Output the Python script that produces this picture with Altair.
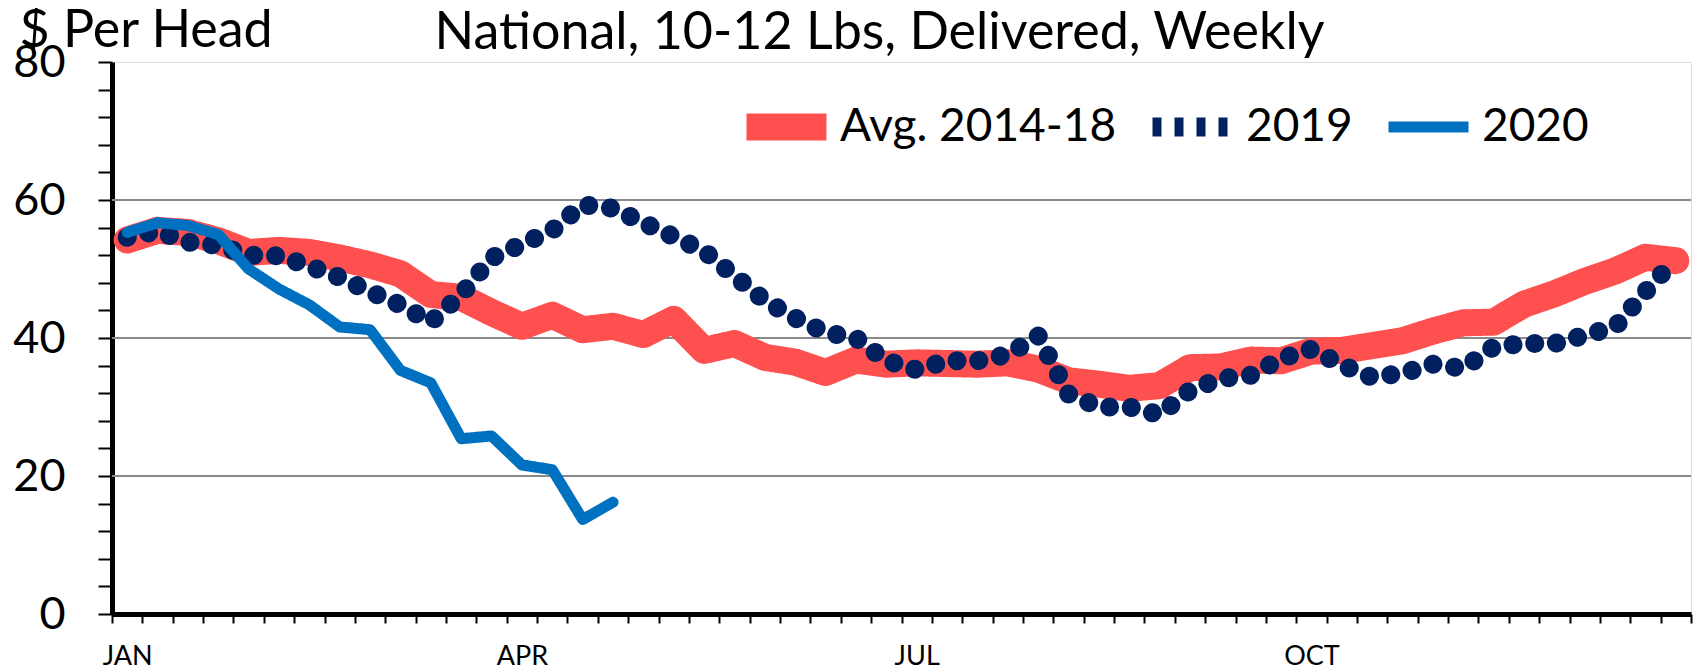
import altair as alt
import pandas as pd

# ---------------- data ----------------
series_names = ["Avg. 2014-18", "2019", "2020"]
series_colors = ["#FF5050", "#002060", "#0070C0"]

avg_values = [54.2, 55.6, 55.3, 54.1, 52.4, 52.7, 52.4, 51.6, 50.6, 49.3,
              46.3, 45.9, 43.7, 41.7, 43.3, 41.2, 41.7, 40.5, 42.7, 38.2,
              39.2, 37.2, 36.5, 35.0, 36.8, 36.2, 36.4, 36.3, 36.2, 36.4,
              35.5, 33.8, 33.3, 32.7, 33.1, 35.7, 35.8, 36.8, 36.7, 38.1,
              38.2, 38.9, 39.6, 41.0, 42.2, 42.3, 44.9, 46.4, 48.2, 49.7,
              51.7, 51.2]
y2019_values = [54.6, 55.5, 53.9, 53.4, 52.0, 51.9, 50.4, 48.8, 46.7, 44.8,
                42.3, 46.3, 51.6, 53.6, 55.6, 59.3, 58.8, 56.7, 54.7, 52.6,
                49.0, 45.4, 42.9, 40.8, 40.0, 36.7, 35.4, 36.7, 36.7, 37.6,
                40.3, 31.9, 30.0, 30.0, 28.9, 32.4, 34.1, 34.6, 37.0, 38.4,
                36.1, 34.3, 34.9, 36.2, 35.6, 38.7, 39.2, 39.2, 40.4, 41.6,
                46.7, 51.5]
y2020_values = [55.3, 56.7, 56.3, 55.0, 50.0, 47.1, 44.8, 41.6, 41.2, 35.3,
                33.5, 25.4, 25.8, 21.6, 20.9, 13.7, 16.2]

month_labels = ["JAN", "APR", "JUL", "OCT"]
month_weeks = [0, 13, 26, 39]
y_tick_values = list(range(0, 81, 4))
y_label_step = 20
grid_values = [20, 40, 60]

title_text = "National, 10-12 Lbs, Delivered, Weekly"
y_title = "$ Per Head"

# ---------------- styling ----------------
FONT = "Lato"
W, H = 1579, 552
series_widths = [27, 11, 11]
legend_dashes = [[1, 0], [9, 13], [1, 0]]

rows = []
for name, vals in zip(series_names, [avg_values, y2019_values, y2020_values]):
    for w, v in enumerate(vals):
        rows.append({"week": w, "value": v, "series": name})
df = pd.DataFrame(rows)
grid_df = pd.DataFrame({"value": grid_values})

n_weeks = len(avg_values)

expr = "''"
for w, lab in reversed(list(zip(month_weeks, month_labels))):
    expr = f"datum.value == {w} ? '{lab}' : ({expr})"
x_label_expr = expr

x_scale = alt.Scale(type="band", domain=list(range(n_weeks)), paddingInner=0, paddingOuter=0)
y_scale = alt.Scale(domain=[0, 80], nice=False, zero=True)

x_axis = alt.Axis(tickBand="extent", labelExpr=x_label_expr, title=None,
                  tickSize=9, tickWidth=2, tickColor="black",
                  domainColor="black", domainWidth=5, grid=False,
                  labelFontSize=27, labelColor="black", labelFont=FONT,
                  labelPadding=20, labelAlign="center", labelAngle=0,
                  labelOverlap=False, labelFlush=False, labelBaseline="top")
y_axis = alt.Axis(values=y_tick_values,
                  labelExpr=f"datum.value % {y_label_step} === 0 ? datum.label : ''",
                  title=y_title, titleAngle=0, titleAlign="left",
                  titleBaseline="alphabetic", titleX=-93, titleY=-16,
                  titleFontSize=52, titleFontWeight="normal", titleFont=FONT,
                  titleColor="black",
                  tickSize=14, tickWidth=2, tickColor="black",
                  domainColor="black", domainWidth=5, grid=False,
                  labelFontSize=45, labelColor="black", labelFont=FONT,
                  labelPadding=33, labelOverlap=False, labelFlush=False)

legend_spec = alt.Legend(title=None, orient="none", legendX=599, legendY=40,
                         direction="horizontal", columns=3, clipHeight=50,
                         symbolType="stroke", symbolSize=80 * 80, symbolOffset=22,
                         labelFontSize=46, labelFont=FONT, labelColor="black",
                         labelOffset=0, labelLimit=600, columnPadding=0, padding=0)

color_enc = alt.Color("series:N", scale=alt.Scale(domain=series_names, range=series_colors),
                      legend=legend_spec)
width_enc = alt.StrokeWidth("series:N", scale=alt.Scale(domain=series_names, range=series_widths),
                            legend=legend_spec)
dash_enc = alt.StrokeDash("series:N", scale=alt.Scale(domain=series_names, range=legend_dashes),
                          legend=legend_spec)

x_enc = alt.X("week:O", scale=x_scale, axis=x_axis)
y_enc = alt.Y("value:Q", scale=y_scale, axis=y_axis)

grid = alt.Chart(grid_df).mark_rule(color="#898989", strokeWidth=2).encode(y=y_enc)

base = alt.Chart(df).encode(x=x_enc, y=y_enc, color=color_enc, strokeWidth=width_enc)

avg_layer = base.transform_filter(alt.datum.series == series_names[0]).mark_line(
    strokeCap="round", strokeJoin="round").encode(strokeDash=dash_enc)
y19_layer = base.transform_filter(alt.datum.series == series_names[1]).mark_line(
    strokeCap="round", strokeJoin="round", strokeDash=[0.1, 21.7])
y20_layer = base.transform_filter(alt.datum.series == series_names[2]).mark_line(
    strokeCap="round", strokeJoin="round").encode(strokeDash=dash_enc)

chart = alt.layer(grid, avg_layer, y19_layer, y20_layer).properties(
    width=W, height=H,
    title=alt.TitleParams(text=title_text, fontSize=52, font=FONT, fontWeight="normal",
                          color="black", anchor="middle", frame="group", dx=-22,
                          offset=-97, baseline="alphabetic"),
    autosize=alt.AutoSizeParams(type="none"),
    padding={"left": 104, "top": 54, "right": 2, "bottom": 58},
).configure_view(stroke="black", strokeWidth=4).configure(font=FONT)

chart.save("out.html", embed_options={"renderer": "svg", "actions": False})
